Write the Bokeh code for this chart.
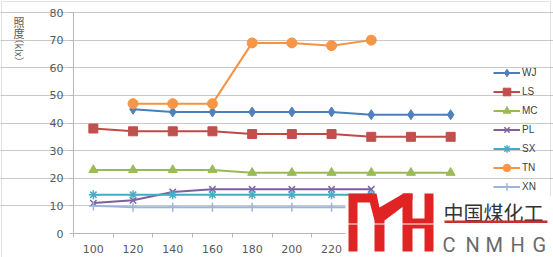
from bokeh.plotting import figure
from bokeh.models import (Range1d, FixedTicker, ColumnDataSource, Legend, LegendItem,
                          Label, BoxAnnotation, PolyAnnotation, LinearAxis, Grid)
from bokeh.embed import file_html
from bokeh.resources import INLINE

W, H = 553, 257

categories = ["100", "120", "140", "160", "180", "200", "220", "240", "260", "280"]
y_ticks = [0, 10, 20, 30, 40, 50, 60, 70, 80]

WJ = [None, 45, 44, 44, 44, 44, 44, 43, 43, 43]
LS = [38, 37, 37, 37, 36, 36, 36, 35, 35, 35]
MC = [23, 23, 23, 23, 22, 22, 22, 22, 22, 22]
PL = [11, 12, 15, 16, 16, 16, 16, 16, None, None]
SX = [14, 14, 14, 14, 14, 14, 14, 14, None, None]
TN = [None, 47, 47, 47, 69, 69, 68, 70, None, None]
XN = [10, 9.5, 9.5, 9.5, 9.5, 9.5, 9.5, 9.5, None, None]

series = [
    ("WJ", WJ, "#4A7EBB", "#4F81BD", "diamond", 10),
    ("LS", LS, "#BE4B48", "#C0504D", "square", 9),
    ("MC", MC, "#98B954", "#9BBB59", "triangle", 9),
    ("PL", PL, "#7D60A0", "#8064A2", "x", 9),
    ("SX", SX, "#46AAC5", "#4BACC6", "asterisk", 9),
    ("TN", TN, "#F69240", "#F79646", "circle", 10),
    ("XN", XN, "#9CB5DA", "#9CB5DA", "cross", 9),
]

# plot area inside the canvas (pixels)
FL, FR, FT, FB = 73, 470, 12, 233
n = len(categories)
ymax = y_ticks[-1]
px_x = (FR - FL) / n
px_y = (FB - FT) / ymax
x_range = Range1d(-FL / px_x, n + (W - FR) / px_x)
y_range = Range1d(-(H - FB) / px_y, ymax + FT / px_y)

p = figure(width=W, height=H, output_backend="svg", toolbar_location=None,
           x_range=x_range, y_range=y_range, x_axis_location=None, y_axis_location=None,
           min_border=0)
p.outline_line_color = None
p.background_fill_color = "white"
p.border_fill_color = "white"
p.xgrid.visible = False
p.ygrid.visible = False

centers = [i + 0.5 for i in range(n)]
xaxis = LinearAxis(fixed_location=0, bounds=(0, n),
                   ticker=FixedTicker(ticks=centers, minor_ticks=list(range(n + 1))),
                   major_label_overrides={c: lab for c, lab in zip(centers, categories)},
                   major_tick_out=0, major_tick_in=0, minor_tick_out=4, minor_tick_in=0,
                   minor_tick_line_color="#B7B7B7", axis_line_color="#B7B7B7",
                   major_label_standoff=7)
yaxis = LinearAxis(fixed_location=0, bounds=(0, ymax),
                   ticker=FixedTicker(ticks=y_ticks),
                   major_tick_out=4, major_tick_in=0, minor_tick_line_color=None,
                   major_tick_line_color="#B7B7B7", axis_line_color="#B7B7B7",
                   major_label_standoff=6)
for ax in (xaxis, yaxis):
    ax.major_label_text_font = "DejaVu Sans"
    ax.major_label_text_font_size = "11px"
    ax.major_label_text_color = "#595959"
p.add_layout(xaxis, "below")
p.add_layout(yaxis, "left")
p.add_layout(Grid(dimension=1, ticker=FixedTicker(ticks=y_ticks[1:]), bounds=(0, n),
                  grid_line_color="#C9C9C9"))

items = []
for name, vals, lc, mc, marker, size in series:
    xs = [c for c, v in zip(centers, vals) if v is not None]
    ys = [v for v in vals if v is not None]
    src = ColumnDataSource(dict(x=xs, y=ys))
    r1 = p.line("x", "y", source=src, line_color=lc, line_width=2)
    if marker in ("x", "asterisk", "cross"):
        r2 = p.scatter("x", "y", source=src, marker=marker, size=size,
                       line_color=mc, line_width=1.5, fill_color=None)
    else:
        r2 = p.scatter("x", "y", source=src, marker=marker, size=size,
                       line_color=mc, fill_color=mc)
    items.append(LegendItem(label=name, renderers=[r1, r2]))

legend = Legend(items=items, location=(493, H - 196), padding=0, margin=0, spacing=0,
                glyph_width=27, glyph_height=19, label_height=19, label_standoff=2,
                label_text_font="Liberation Sans", label_text_font_size="10px",
                label_text_color="#404040", border_line_color=None,
                background_fill_alpha=0)
p.add_layout(legend, "center")

def sy(top):
    # screen units are measured upward from the bottom edge
    return H - top

for ch, top in [("照", 13), ("度", 24)]:
    p.add_layout(Label(x=13, y=sy(top), x_units="screen", y_units="screen", text=ch,
                       text_font="Noto Sans CJK SC", text_font_size="11px",
                       text_color="#595959", text_baseline="top"))
p.add_layout(Label(x=19, y=sy(33), x_units="screen", y_units="screen", text="（klx）",
                   angle=-1.5708, text_font="Noto Sans CJK SC", text_font_size="10px",
                   text_color="#595959", text_baseline="middle", text_align="left"))

p.add_layout(BoxAnnotation(left=1, right=550, top=sy(1), bottom=sy(258),
                           left_units="screen", right_units="screen",
                           top_units="screen", bottom_units="screen",
                           fill_alpha=0, line_color="#A0A0A0", line_width=1))

p.add_layout(BoxAnnotation(left=345, right=553, top=sy(196), bottom=sy(257),
                           left_units="screen", right_units="screen",
                           top_units="screen", bottom_units="screen",
                           fill_color="white", fill_alpha=1, line_color=None, level="overlay"))
logo_polys = [
    [(348, 193), (374, 193), (374, 202), (357, 202), (357, 251), (348, 251)],
    [(367, 193), (376, 193), (379, 207), (403, 193), (412, 193), (412, 199),
     (384, 220), (384, 251), (374, 251), (374, 220)],
    [(402, 193), (412, 193), (412, 218), (424, 218), (424, 193), (433, 193),
     (433, 251), (424, 251), (424, 228), (412, 228), (412, 251), (402, 251)],
]
for poly in logo_polys:
    p.add_layout(PolyAnnotation(xs=[q[0] for q in poly], ys=[sy(q[1]) for q in poly],
                                xs_units="screen", ys_units="screen",
                                fill_color="#E02424", fill_alpha=1, line_color=None,
                                level="overlay"))
p.add_layout(BoxAnnotation(left=347, right=434, top=sy(223), bottom=sy(224),
                           left_units="screen", right_units="screen",
                           top_units="screen", bottom_units="screen",
                           fill_color="white", fill_alpha=1, line_color=None, level="overlay"))
p.add_layout(Label(x=443, y=sy(197), x_units="screen", y_units="screen", text="中国煤化工",
                   text_font="Noto Sans CJK SC", text_font_size="20px",
                   text_color="#333333", text_baseline="top", level="overlay"))
p.add_layout(BoxAnnotation(left=444, right=547, top=sy(220), bottom=sy(222.5),
                           left_units="screen", right_units="screen",
                           top_units="screen", bottom_units="screen",
                           fill_color="#C8302A", fill_alpha=1, line_color=None, level="overlay"))
for ch, left in zip("CNMHG", [442, 465, 485, 510, 532]):
    p.add_layout(Label(x=left, y=sy(244), x_units="screen", y_units="screen", text=ch,
                       text_font="Roboto", text_font_size="20px",
                       text_color="#6A6A6A", text_baseline="alphabetic", level="overlay"))

open("out.html", "w").write(file_html(p, INLINE))
